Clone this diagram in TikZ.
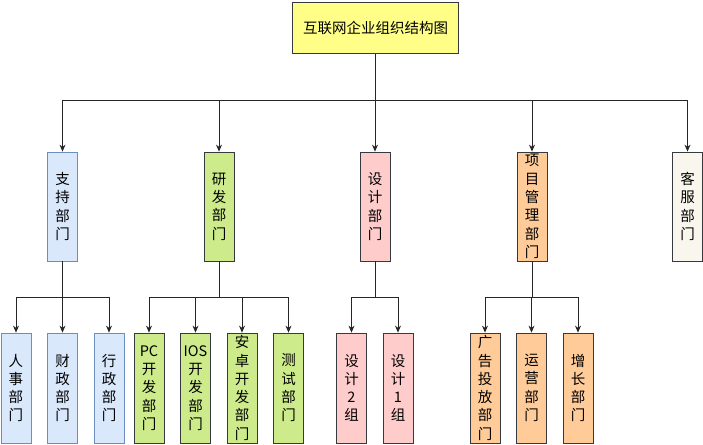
\documentclass[tikz,border=0pt]{standalone}
\usepackage{fontspec}
\newfontfamily\cjk{Noto Sans CJK SC}
\usetikzlibrary{arrows.meta}
\definecolor{bluefill}{HTML}{DAE8FC}
\definecolor{bluedraw}{HTML}{6C8EBF}
\definecolor{greenfill}{HTML}{CDEB8B}
\definecolor{pinkfill}{HTML}{FFCCCC}
\definecolor{orangefill}{HTML}{FFCC99}
\definecolor{creamfill}{HTML}{F9F7ED}
\definecolor{yellowfill}{HTML}{FFFF88}
\definecolor{darkline}{HTML}{36393D}
\tikzset{
	box/.style={draw=darkline, line width=0.8pt, inner sep=0pt, align=center,
			font=\cjk\fontsize{14.5}{18.3}\selectfont},
	dept/.style={box, minimum width=30pt, minimum height=109pt},
	subdept/.style={box, minimum width=30pt, minimum height=110pt},
	arr/.style={draw=black!85, line width=0.8pt, -{Stealth[length=7pt,width=6pt]}}
}

\begin{document}
\begin{tikzpicture}[x=1pt,y=-1pt]
	\useasboundingbox (0,0) rectangle (703,444);

	% Root
	\node[box, fill=yellowfill, minimum width=166pt, minimum height=51pt] (top) at (375.5,28) {互联网企业组织结构图};

	% Departments
	\node[dept, fill=bluefill, draw=bluedraw] (sup) at (62.5,206.5) {支\\持\\部\\门};
	\node[dept, fill=greenfill] (dev) at (219,206.5) {研\\发\\部\\门};
	\node[dept, fill=pinkfill] (des) at (375,206.5) {设\\计\\部\\门};
	\node[dept, fill=orangefill] (pm) at (532,206.5) {项\\目\\管\\理\\部\\门};
	\node[dept, fill=creamfill] (cs) at (687.5,206.5) {客\\服\\部\\门};

	% Sub departments
	\node[subdept, fill=bluefill, draw=bluedraw] (sup1) at (16,388) {人\\事\\部\\门};
	\node[subdept, fill=bluefill, draw=bluedraw] (sup2) at (62.5,388) {财\\政\\部\\门};
	\node[subdept, fill=bluefill, draw=bluedraw] (sup3) at (109,388) {行\\政\\部\\门};
	\node[subdept, fill=greenfill] (dev1) at (149,388) {PC\\开\\发\\部\\门};
	\node[subdept, fill=greenfill] (dev2) at (195.5,388) {IOS\\开\\发\\部\\门};
	\node[subdept, fill=greenfill] (dev3) at (242,388) {安\\卓\\开\\发\\部\\门};
	\node[subdept, fill=greenfill] (dev4) at (288.5,388) {测\\试\\部\\门};
	\node[subdept, fill=pinkfill] (des1) at (351.5,388) {设\\计\\2\\组};
	\node[subdept, fill=pinkfill] (des2) at (398,388) {设\\计\\1\\组};
	\node[subdept, fill=orangefill] (pm1) at (485,388) {广\\告\\投\\放\\部\\门};
	\node[subdept, fill=orangefill] (pm2) at (531.5,388) {运\\营\\部\\门};
	\node[subdept, fill=orangefill] (pm3) at (578,388) {增\\长\\部\\门};

	% Bus lines
	\coordinate (bus1) at (0,100);
	\coordinate (bus2) at (0,297);

	% Root to departments
	\foreach \d in {sup,dev,des,pm,cs}
		\draw[arr] (top.south) -- (top.south |- bus1) -| (\d.north);

	% Departments to sub departments
	\foreach \p/\c in {sup/sup1,sup/sup2,sup/sup3,dev/dev1,dev/dev2,dev/dev3,dev/dev4,
			des/des1,des/des2,pm/pm1,pm/pm2,pm/pm3}
		\draw[arr] (\p.south) -- (\p.south |- bus2) -| (\c.north);

\end{tikzpicture}
\end{document}
